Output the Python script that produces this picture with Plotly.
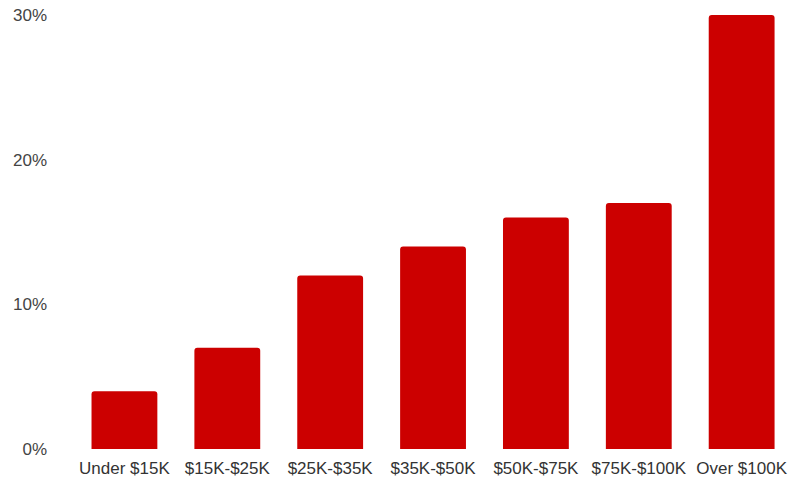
import plotly.graph_objects as go

categories = ["Under $15K", "$15K-$25K", "$25K-$35K", "$35K-$50K", "$50K-$75K", "$75K-$100K", "Over $100K"]
values = [4, 7, 12, 14, 16, 17, 30]
y_ticks = [0, 10, 20, 30]
y_labels = ["0%", "10%", "20%", "30%"]

fig = go.Figure(go.Bar(x=categories, y=values, marker=dict(color="#cc0000", line=dict(width=0))))

fig.update_layout(
    width=790, height=479,
    margin=dict(l=73, r=0, t=15, b=30, autoexpand=False),
    paper_bgcolor="white", plot_bgcolor="white",
    bargap=0.36,
    barcornerradius=3,
    font=dict(family="Liberation Sans, Arial, sans-serif", size=17, color="#333333"),
    showlegend=False,
)
fig.update_xaxes(range=[-0.5, 6.47], showgrid=False, showline=False, zeroline=False, ticks="",
                 automargin=False, ticklabelstandoff=7, ticklabeloverflow="allow",
                 tickfont=dict(size=17, color="#333333"))
fig.update_yaxes(range=[0, 30], tickvals=y_ticks, ticktext=y_labels, showgrid=False, showline=False,
                 zeroline=False, ticks="", automargin=False, ticklabelstandoff=25, ticklabeloverflow="allow",
                 tickfont=dict(size=17, color="#444444"))

fig.write_html("out.html", config={"displayModeBar": False},
               post_script="document.body.style.margin='0';document.body.style.overflow='hidden';")
